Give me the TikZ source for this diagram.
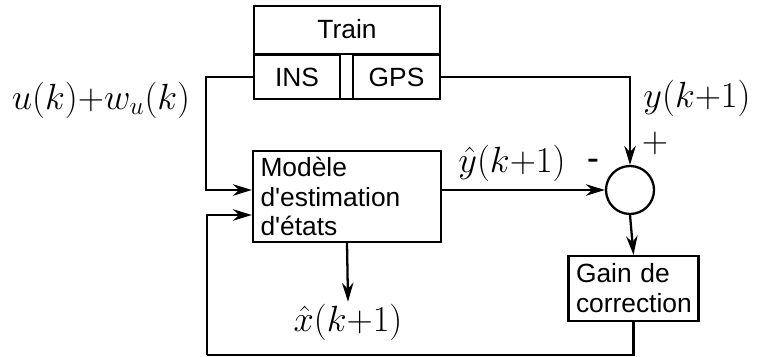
\documentclass[tikz,border=0pt]{standalone}
\usepackage{amsmath,amssymb}
\usepackage{fontspec}
\newfontfamily\arialfont{Liberation Sans}
\usetikzlibrary{positioning,arrows.meta}
\tikzset{%
  block/.style={draw, rectangle, line width=1.3pt, inner sep=0pt, font=\fontsize{15}{17}\selectfont\arialfont},% plain box
  txtblock/.style={block, align=left, inner xsep=0.15cm},% box with left text
  sumnode/.style={draw, circle, line width=1.3pt, minimum size=0.96cm, inner sep=0pt},% summing point
  signal/.style={line width=1.3pt, -{Stealth[length=3.8mm, width=2.3mm]}},% signal arrow
  wire/.style={line width=1.3pt},% line with no tip
  mathlbl/.style={font=\fontsize{21}{25}\selectfont, inner sep=1pt},% math labels
  sign/.style={font=\fontsize{21}{25}\selectfont, inner sep=1pt}% signs at the summing point
}
\begin{document}
\begin{tikzpicture}[x=0.02cm, y=-0.02cm]
\useasboundingbox (0,0) rectangle (763,357);

% train with its two sensors
\node[block, minimum width=3.72cm, minimum height=1.86cm] (train) at (347,52.5) {};
\node[font=\fontsize{15}{17}\selectfont\arialfont] (trainlbl) at (347,29) {Train};
\node[block, minimum width=1.72cm, minimum height=0.88cm] (ins) at (297,77) {INS};
\node[block, minimum width=1.74cm, minimum height=0.88cm] (gps) at (396.5,77) {GPS};
\draw[wire] (ins.north west) -- (gps.north east);

% estimator, summing point, gain
\node[txtblock, text width=3.46cm, minimum height=1.82cm] (model) at (347,196.5)
  {Mod\`ele\\d'estimation\\d'\'etats};
\node[sumnode] (sum) at (630,190) {};
\node[txtblock, text width=2.3cm, minimum height=1.3cm] (gain) at (633.5,288.5)
  {Gain de\\correction};
\node[mathlbl] (xhat) at (348,322) {$\hat{x}(k{+}1)$};

\coordinate (m1) at (sum.west -| model.west);
\coordinate (m2) at ([yshift=-0.37cm]model.west);
\coordinate (fb) at (207,355);

% signals
\draw[signal] (ins.west) -- ++(-47,0) |- (m1);
\draw[signal] (gps.east) -| (sum.north);
\draw[signal] (sum.west -| model.east) -- (sum.west);
\draw[signal] (model.south) -- (xhat.north);
\draw[signal] (sum.south) -- (gain.north);
\draw[wire] (gain.south) |- (fb);
\draw[signal] (fb) |- (m2);

% labels
\node[mathlbl] (ulbl) at (101,100) {$u(k){+}w_u(k)$};
\node[mathlbl] (ylbl) at (697,98) {$y(k{+}1)$};
\node[mathlbl] (yhat) at (512,163) {$\hat{y}(k{+}1)$};
\node[sign, font=\fontsize{21}{25}\selectfont\arialfont] (minus) at (593,165) {-};
\node[sign] (plus) at (655,143) {$+$};
\end{tikzpicture}
\end{document}
